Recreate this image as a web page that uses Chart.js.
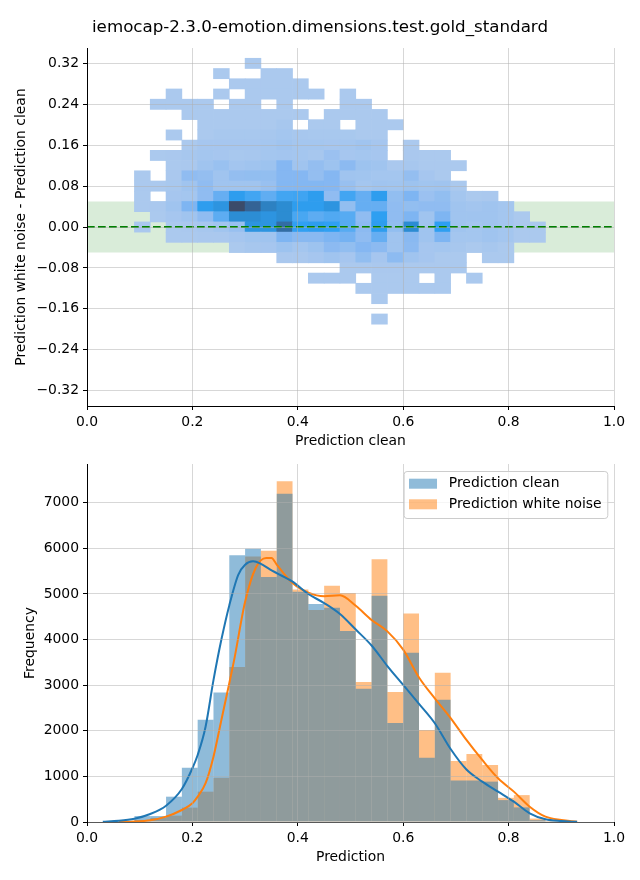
<!DOCTYPE html>
<html>
<head>
<meta charset="utf-8">
<script src="https://cdn.jsdelivr.net/npm/chart.js@4.4.6/dist/chart.umd.min.js"></script>
<style>
  html, body { margin: 0; padding: 0; background: #fff; }
  #page { position: relative; width: 640px; height: 880px; }
  .panel { position: absolute; left: 0; width: 640px; }
  #top { top: 0; height: 450px; }
  #bottom { top: 450px; height: 430px; }
</style>
</head>
<body>
<div id="page">
  <div class="panel" id="top"><canvas id="diffChart"></canvas></div>
  <div class="panel" id="bottom"><canvas id="histChart"></canvas></div>
</div>
<script>
const chartTitle = "iemocap-2.3.0-emotion.dimensions.test.gold_standard"

// 2D histogram: prediction clean (x) vs. white noise minus clean (y)
const diffXCenters = [0.105, 0.135, 0.165, 0.195, 0.225, 0.255, 0.285, 0.315, 0.345, 0.375, 0.405, 0.435, 0.465,
  0.495, 0.525, 0.555, 0.585, 0.615, 0.645, 0.675, 0.705, 0.735, 0.765, 0.795, 0.825, 0.855]
const diffYCenters = [0.32, 0.30, 0.28, 0.26, 0.24, 0.22, 0.20, 0.18, 0.16, 0.14, 0.12, 0.10, 0.08,
  0.06, 0.04, 0.02, 0.00, -0.02, -0.04, -0.06, -0.08, -0.10, -0.12, -0.14, -0.16, -0.18]
// one row per diffYCenters entry, one column per diffXCenters entry (0 = empty)
const diffCounts = [
  [0, 0, 0, 0, 0, 0, 0, 10, 0, 0, 0, 0, 0, 0, 0, 0, 0, 0, 0, 0, 0, 0, 0, 0, 0, 0],
  [0, 0, 0, 0, 0, 10, 0, 0, 10, 10, 0, 0, 0, 0, 0, 0, 0, 0, 0, 0, 0, 0, 0, 0, 0, 0],
  [0, 0, 0, 0, 0, 0, 10, 10, 10, 10, 10, 0, 0, 0, 0, 0, 0, 0, 0, 0, 0, 0, 0, 0, 0, 0],
  [0, 0, 10, 0, 0, 10, 0, 10, 10, 10, 10, 10, 0, 10, 0, 0, 0, 0, 0, 0, 0, 0, 0, 0, 0, 0],
  [0, 10, 10, 10, 10, 0, 10, 10, 0, 10, 0, 0, 0, 10, 10, 0, 0, 0, 0, 0, 0, 0, 0, 0, 0, 0],
  [0, 0, 0, 10, 10, 10, 10, 10, 10, 10, 10, 0, 10, 10, 10, 10, 0, 0, 0, 0, 0, 0, 0, 0, 0, 0],
  [0, 0, 0, 0, 10, 10, 10, 10, 10, 13, 0, 10, 10, 0, 10, 10, 10, 0, 0, 0, 0, 0, 0, 0, 0, 0],
  [0, 0, 10, 0, 10, 12, 12, 12, 13, 15, 13, 12, 12, 12, 10, 10, 0, 0, 0, 0, 0, 0, 0, 0, 0, 0],
  [0, 0, 0, 10, 14, 14, 14, 14, 15, 18, 15, 15, 14, 15, 18, 14, 0, 10, 0, 0, 0, 0, 0, 0, 0, 0],
  [0, 10, 11, 13, 15, 14, 12, 13, 15, 16, 15, 13, 22, 14, 15, 14, 0, 11, 10, 10, 0, 0, 0, 0, 0, 0],
  [0, 0, 10, 11, 18, 23, 16, 18, 20, 38, 18, 27, 20, 33, 20, 18, 11, 13, 10, 10, 10, 0, 0, 0, 0, 0],
  [10, 0, 11, 30, 27, 18, 27, 28, 28, 38, 38, 27, 38, 18, 17, 15, 15, 27, 14, 10, 0, 0, 0, 0, 0, 0],
  [10, 10, 12, 18, 30, 18, 18, 18, 24, 39, 39, 39, 38, 24, 15, 18, 17, 20, 17, 18, 10, 0, 0, 0, 0, 0],
  [10, 0, 14, 15, 30, 50, 70, 62, 52, 62, 63, 70, 30, 62, 50, 70, 28, 42, 22, 28, 15, 10, 11, 0, 0, 0],
  [10, 11, 18, 42, 70, 75, 100, 93, 84, 80, 70, 70, 75, 28, 50, 50, 30, 28, 30, 30, 18, 16, 18, 15, 0, 0],
  [0, 10, 14, 18, 30, 53, 79, 79, 75, 80, 60, 53, 57, 55, 30, 69, 30, 42, 18, 42, 18, 18, 18, 15, 10, 0],
  [11, 0, 10, 11, 13, 17, 24, 75, 75, 90, 68, 70, 68, 55, 33, 70, 28, 80, 18, 69, 18, 15, 18, 15, 10, 10],
  [0, 0, 10, 10, 11, 11, 14, 17, 18, 42, 35, 35, 42, 45, 30, 50, 18, 35, 18, 42, 15, 15, 18, 15, 10, 10],
  [0, 0, 0, 0, 0, 0, 10, 13, 14, 20, 15, 20, 33, 28, 38, 33, 18, 33, 14, 15, 13, 10, 13, 10, 0, 0],
  [0, 0, 0, 0, 0, 0, 0, 0, 0, 11, 11, 14, 18, 14, 28, 14, 32, 18, 14, 10, 10, 0, 10, 10, 0, 0],
  [0, 0, 0, 0, 0, 0, 0, 0, 0, 0, 0, 0, 0, 10, 10, 11, 11, 10, 10, 10, 10, 0, 0, 0, 0, 0],
  [0, 0, 0, 0, 0, 0, 0, 0, 0, 0, 0, 10, 10, 10, 0, 10, 10, 10, 0, 10, 0, 10, 0, 0, 0, 0],
  [0, 0, 0, 0, 0, 0, 0, 0, 0, 0, 0, 0, 0, 0, 10, 10, 10, 10, 10, 10, 0, 0, 0, 0, 0, 0],
  [0, 0, 0, 0, 0, 0, 0, 0, 0, 0, 0, 0, 0, 0, 0, 10, 0, 0, 0, 0, 0, 0, 0, 0, 0, 0],
  [0, 0, 0, 0, 0, 0, 0, 0, 0, 0, 0, 0, 0, 0, 0, 0, 0, 0, 0, 0, 0, 0, 0, 0, 0, 0],
  [0, 0, 0, 0, 0, 0, 0, 0, 0, 0, 0, 0, 0, 0, 0, 10, 0, 0, 0, 0, 0, 0, 0, 0, 0, 0]
]
const diffYTicks = [-0.32, -0.24, -0.16, -0.08, 0, 0.08, 0.16, 0.24, 0.32]
const toleranceBand = [-0.05, 0.05]

// 1D histograms of both predictions
const histCenters = [0.045, 0.075, 0.105, 0.135, 0.165, 0.195, 0.225, 0.255, 0.285, 0.315, 0.345, 0.375, 0.405,
  0.435, 0.465, 0.495, 0.525, 0.555, 0.585, 0.615, 0.645, 0.675, 0.705, 0.735, 0.765, 0.795, 0.825, 0.855, 0.885, 0.915]
const cleanCounts = [10, 20, 130, 130, 555, 1190, 2240, 2840, 5850, 5990, 5370, 7195, 5050, 4780, 4700, 4190, 2920,
  4960, 2170, 3710, 1410, 2680, 910, 910, 885, 480, 320, 40, 15, 5]
const noiseCounts = [10, 15, 45, 90, 140, 315, 665, 970, 3400, 5820, 5950, 7470, 5100, 4650, 5180, 5020, 3070,
  5760, 2850, 4570, 2020, 3270, 1340, 1490, 1250, 530, 590, 75, 20, 10]
const cleanKde = [[0.03, 5], [0.06, 25], [0.09, 72], [0.12, 175], [0.15, 358], [0.18, 724], [0.20, 1178], [0.21, 1470],
  [0.225, 2090], [0.24, 3110], [0.255, 4000], [0.27, 4750], [0.287, 5420], [0.30, 5640], [0.315, 5715], [0.33, 5660],
  [0.347, 5540], [0.36, 5457], [0.39, 5270], [0.42, 5000], [0.45, 4800], [0.48, 4560], [0.51, 4220], [0.54, 3870],
  [0.57, 3420], [0.60, 3006], [0.63, 2590], [0.66, 2165], [0.69, 1600], [0.72, 1150], [0.75, 885], [0.78, 666],
  [0.81, 446], [0.84, 190], [0.87, 59], [0.90, 20], [0.93, 3]]
const noiseKde = [[0.06, 3], [0.09, 10], [0.12, 37], [0.15, 117], [0.18, 263], [0.20, 410], [0.21, 556], [0.225, 850],
  [0.24, 1433], [0.255, 2238], [0.27, 3043], [0.28, 3600], [0.30, 4828], [0.32, 5570], [0.34, 5790], [0.35, 5790],
  [0.36, 5644], [0.39, 5240], [0.42, 5030], [0.45, 4950], [0.48, 4970], [0.51, 4740], [0.54, 4430], [0.57, 4180],
  [0.60, 3780], [0.63, 3170], [0.66, 2710], [0.69, 2280], [0.72, 1800], [0.75, 1361], [0.78, 959], [0.81, 666],
  [0.84, 336], [0.87, 117], [0.90, 44], [0.93, 7]]
const freqTicks = [0, 1000, 2000, 3000, 4000, 5000, 6000, 7000]
const predTicks = [0, 0.2, 0.4, 0.6, 0.8, 1.0]

const fontFamily = '"DejaVu Sans", sans-serif'
Chart.defaults.font.family = fontFamily
Chart.defaults.font.size = 13.9
Chart.defaults.color = "#000"
Chart.defaults.animation = false

const heatStops = [
  [0, [171, 201, 238]],
  [0.35, [128, 181, 242]],
  [0.65, [46, 160, 242]],
  [0.8, [44, 136, 204]],
  [0.92, [52, 100, 150]],
  [1, [59, 75, 106]]
]
const allCounts = diffCounts.flat().filter((n) => n > 0)
const minCount = Math.min(...allCounts)
const maxCount = Math.max(...allCounts)

function heatColor(n) {
  const t = Math.min(Math.max((n - minCount) / (maxCount - minCount), 0), 1)
  for (let i = 1; i < heatStops.length; i++) {
    const [t1, c1] = heatStops[i]
    const [t0, c0] = heatStops[i - 1]
    if (t <= t1) {
      const f = (t - t0) / (t1 - t0)
      const c = c0.map((v, k) => Math.round(v + (c1[k] - v) * f))
      return `rgb(${c[0]},${c[1]},${c[2]})`
    }
  }
  return "rgb(59,75,106)"
}

const halfBin = Math.abs(diffYCenters[0] - diffYCenters[1]) / 2
const cells = []
diffCounts.forEach((row, r) => {
  row.forEach((n, c) => {
    if (n > 0) cells.push({ x: diffXCenters[c], y: [diffYCenters[r] - halfBin, diffYCenters[r] + halfBin], n })
  })
})

const gridOpts = { color: "rgba(176,176,176,0.5)", tickColor: "#000", tickLength: 4, z: 1, offset: false }
const borderOpts = { display: true, color: "#000", width: 1, z: 1 }
const fixedTicks = (values) => (scale) => { scale.ticks = values.map((value) => ({ value })) }
const minusSign = (v, digits) => (v < -1e-9 ? "\u2212" : "") + Math.abs(v).toFixed(digits)

// same left and right padding keeps the figure title centred on the page
const sidePad = 26

new Chart(document.getElementById("diffChart"), {
  type: "bar",
  data: {
    datasets: [
      {
        type: "line",
        label: "zero",
        data: [{ x: 0, y: 0 }, { x: 1, y: 0 }],
        borderColor: "#008000",
        borderWidth: 2,
        borderDash: [7.7, 3.3],
        pointRadius: 0,
        fill: false,
        order: 0
      },
      {
        label: "counts",
        data: cells,
        backgroundColor: (ctx) => heatColor(ctx.raw ? ctx.raw.n : 0),
        borderWidth: 0,
        barPercentage: 1,
        categoryPercentage: 1,
        order: 1
      },
      {
        type: "line",
        label: "band",
        data: [{ x: 0, y: toleranceBand[1] }, { x: 1, y: toleranceBand[1] }],
        fill: { value: toleranceBand[0] },
        backgroundColor: "rgba(0,128,0,0.15)",
        borderWidth: 0,
        pointRadius: 0,
        order: 2
      }
    ]
  },
  options: {
    responsive: true,
    maintainAspectRatio: false,
    layout: { padding: { left: sidePad, right: sidePad, top: 0, bottom: 0 } },
    plugins: {
      legend: { display: false },
      tooltip: { enabled: false },
      title: {
        display: true,
        text: chartTitle,
        color: "#000",
        font: { family: fontFamily, size: 16.7, weight: "normal" },
        padding: { top: 18, bottom: 10 }
      }
    },
    scales: {
      x: {
        type: "linear",
        min: 0,
        max: 1,
        offset: false,
        grid: gridOpts,
        border: borderOpts,
        afterBuildTicks: fixedTicks(predTicks),
        afterFit: (scale) => { scale.height = 44 },
        ticks: { padding: 4, maxRotation: 0, callback: (v) => v.toFixed(1) },
        title: { display: true, text: "Prediction clean", padding: { top: 0, bottom: 0.7 } }
      },
      y: {
        type: "linear",
        min: -0.35,
        max: 0.35,
        grid: gridOpts,
        border: borderOpts,
        afterBuildTicks: fixedTicks(diffYTicks),
        afterFit: (scale) => { scale.width = 87 - sidePad },
        ticks: { padding: 4, callback: (v) => minusSign(v, 2) },
        title: { display: true, text: "Prediction white noise - Prediction clean", padding: { top: 12.7 - sidePad, bottom: 0 } }
      }
    }
  }
})

// matplotlib-style legend box inside the plot area, top right
const legendBox = {
  id: "legendBox",
  afterDraw(chart) {
    const { ctx, chartArea } = chart
    const items = chart.data.datasets.filter((d) => d.type !== "line")
    ctx.save()
    ctx.font = `13.9px ${fontFamily}`
    const textW = Math.max(...items.map((d) => ctx.measureText(d.label).width))
    const w = 5.4 + 28 + 11.8 + textW + 5.7
    const h = 47
    const left = chartArea.right - 6.7 - w
    const top = chartArea.top + 7
    ctx.beginPath()
    ctx.roundRect(left + 0.5, top + 0.5, w, h, 3)
    ctx.fillStyle = "rgba(255,255,255,0.8)"
    ctx.fill()
    ctx.strokeStyle = "#cccccc"
    ctx.lineWidth = 1
    ctx.stroke()
    items.forEach((d, i) => {
      const cy = top + 12.7 + i * 20.6
      ctx.fillStyle = d.backgroundColor
      ctx.fillRect(left + 5.4, cy - 5, 28, 10)
      ctx.fillStyle = "#000"
      ctx.textBaseline = "middle"
      ctx.fillText(d.label, left + 5.4 + 28 + 11.8, cy)
    })
    ctx.restore()
  }
}

new Chart(document.getElementById("histChart"), {
  type: "bar",
  data: {
    datasets: [
      {
        type: "line",
        label: "kde clean",
        data: cleanKde.map(([x, y]) => ({ x, y })),
        borderColor: "#1f77b4",
        borderWidth: 2,
        pointRadius: 0,
        cubicInterpolationMode: "monotone",
        fill: false,
        order: 0
      },
      {
        type: "line",
        label: "kde white noise",
        data: noiseKde.map(([x, y]) => ({ x, y })),
        borderColor: "#ff7f0e",
        borderWidth: 2,
        pointRadius: 0,
        cubicInterpolationMode: "monotone",
        fill: false,
        order: 0
      },
      {
        label: "Prediction clean",
        data: histCenters.map((x, i) => ({ x, y: cleanCounts[i] })),
        backgroundColor: "rgba(31,119,180,0.5)",
        borderWidth: 0,
        inflateAmount: 0,
        grouped: false,
        barPercentage: 1,
        categoryPercentage: 1,
        order: 1
      },
      {
        label: "Prediction white noise",
        data: histCenters.map((x, i) => ({ x, y: noiseCounts[i] })),
        backgroundColor: "rgba(255,127,14,0.5)",
        borderWidth: 0,
        inflateAmount: 0,
        grouped: false,
        barPercentage: 1,
        categoryPercentage: 1,
        order: 2
      }
    ]
  },
  options: {
    responsive: true,
    maintainAspectRatio: false,
    layout: { padding: { left: sidePad, right: sidePad, top: 14, bottom: 0 } },
    plugins: {
      legend: { display: false },
      tooltip: { enabled: false }
    },
    scales: {
      x: {
        type: "linear",
        min: 0,
        max: 1,
        offset: false,
        grid: gridOpts,
        border: borderOpts,
        afterBuildTicks: fixedTicks(predTicks),
        afterFit: (scale) => { scale.height = 58 },
        ticks: { padding: 4, maxRotation: 0, callback: (v) => v.toFixed(1) },
        title: { display: true, text: "Prediction", padding: { top: 0, bottom: 14.7 } }
      },
      y: {
        type: "linear",
        min: 0,
        max: 7850,
        grid: gridOpts,
        border: borderOpts,
        afterBuildTicks: fixedTicks(freqTicks),
        afterFit: (scale) => { scale.width = 87 - sidePad },
        ticks: { padding: 4, callback: (v) => String(v) },
        title: { display: true, text: "Frequency", padding: { top: 21.7 - sidePad, bottom: 0 } }
      }
    }
  },
  plugins: [legendBox]
})
</script>
</body>
</html>
